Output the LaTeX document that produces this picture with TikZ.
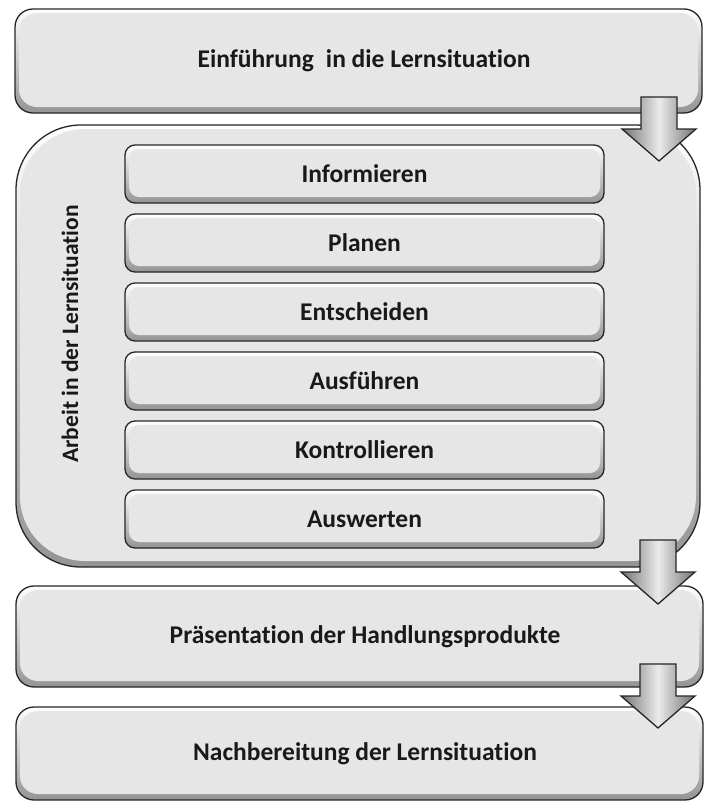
\documentclass[tikz,border=0pt]{standalone}
\usepackage{fontspec}
\setmainfont{Carlito}[Ligatures=NoCommon]
\definecolor{boxfill}{HTML}{E6E6E6}
\definecolor{boxline}{HTML}{262626}
\tikzset{
  x=1pt, y=-1pt,
  bevel/.style={draw=boxline, line width=1.3pt, rounded corners=#1,
    top color=white, bottom color=black!42,
    font=\bfseries\fontsize{25.5}{30}\selectfont, text=black!90,
    path picture={\fill[boxfill, rounded corners=#1]
      ([shift={(4pt,-4pt)}]path picture bounding box.north west) rectangle
      ([shift={(-4pt,6pt)}]path picture bounding box.south east);}},
  bigstep/.style={bevel=18pt, minimum width=687pt, inner sep=0pt,
    execute at begin node={\hspace*{11pt}}},
  substep/.style={bevel=10pt, minimum width=479pt, minimum height=58pt, inner sep=0pt},
  arrowshape/.style={draw=boxline, line width=1.3pt, line join=miter,
    left color=black!55, right color=black!55, middle color=black!8},
  downarrow/.pic={
    \path[arrowshape] (-18,0) -- (18,0) -- (18,32) -- (37,32) -- (0,64)
      -- (-37,32) -- (-18,32) -- cycle;}
}
\begin{document}
\begin{tikzpicture}
\useasboundingbox (0,0) rectangle (705,803);
\node[bigstep, minimum height=104pt] (intro) at (358.5,61) {Einführung\hspace{0.25em} in die Lernsituation};
\node[bevel=65pt, minimum width=684pt, minimum height=442pt, inner sep=0pt] (arbeit) at (358,346) {};
\node[rotate=90, font=\bfseries\fontsize{23.5}{28}\selectfont, text=black!90] (arbeitlabel) at (70,334) {Arbeit in der Lernsituation};
\node[substep] (s1) at (364.5,174) {Informieren};
\node[substep] (s2) at (364.5,243) {Planen};
\node[substep] (s3) at (364.5,312) {Entscheiden};
\node[substep] (s4) at (364.5,381) {Ausführen};
\node[substep] (s5) at (364.5,450) {Kontrollieren};
\node[substep] (s6) at (364.5,519) {Auswerten};
\pic at (659,97) {downarrow};
\node[bigstep, minimum height=101pt] (praes) at (359.5,636.5) {Präsentation der Handlungsprodukte};
\pic at (658,540) {downarrow};
\node[bigstep, minimum height=93pt] (nach) at (359.5,753.5) {Nachbereitung der Lernsituation};
\pic at (658,664) {downarrow};
\end{tikzpicture}
\end{document}
